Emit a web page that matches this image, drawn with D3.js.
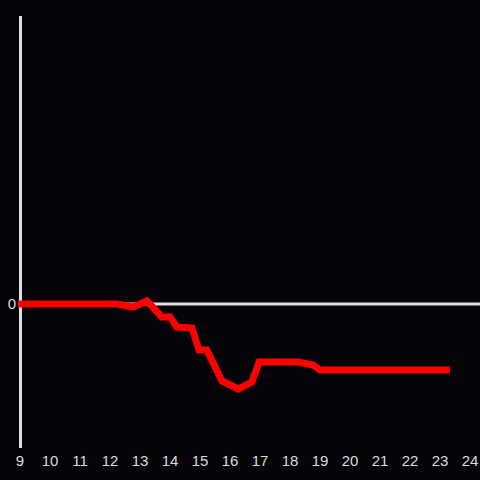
<!DOCTYPE html>
<html>
<head>
<meta charset="utf-8">
<script src="https://cdn.jsdelivr.net/npm/d3@7"></script>
<style>
  html, body { margin: 0; padding: 0; background: #050307; }
  svg { display: block; }
</style>
</head>
<body>
<div id="container"></div>
<script>
// hours of day and values
var hours  = [8.93, 12.23, 12.77, 13.23, 13.73, 14.0, 14.23, 14.73, 14.97, 15.23, 15.73, 16.27, 16.73, 16.97, 18.27, 18.77, 19.0, 23.33];
var values = [0, 0, -3, 3, -13, -13, -23, -24, -46, -46, -77, -85, -78, -58, -58, -61, -66, -66];
var xTicks = [9, 10, 11, 12, 13, 14, 15, 16, 17, 18, 19, 20, 21, 22, 23, 24];
var yTicks = [0];

var width = 480, height = 480;

var svg = d3.select("#container")
    .append("svg")
    .attr("width", width)
    .attr("height", height);

svg.append("rect")
    .attr("width", width)
    .attr("height", height)
    .attr("fill", "#050307");

var x = d3.scaleLinear().domain([9, 24]).range([20, 470]);
var y = d3.scaleLinear().domain([-144, 288]).range([448, 16]);

// zero line
svg.append("line")
    .attr("x1", x(9)).attr("x2", width)
    .attr("y1", y(0)).attr("y2", y(0))
    .attr("stroke", "#e0e0e0")
    .attr("stroke-width", 3);

// y axis line
svg.append("line")
    .attr("x1", 20.5).attr("x2", 20.5)
    .attr("y1", y(288)).attr("y2", y(-144))
    .attr("stroke", "#e0e0e0")
    .attr("stroke-width", 3);

svg.append("g")
    .selectAll("text")
    .data(xTicks)
    .enter().append("text")
    .attr("x", function(d) { return x(d); })
    .attr("y", 466)
    .attr("text-anchor", "middle")
    .attr("fill", "#dcdcdc")
    .style("font", "15px 'Liberation Sans', Arial, sans-serif")
    .text(function(d) { return d; });

svg.append("g")
    .selectAll("text")
    .data(yTicks)
    .enter().append("text")
    .attr("x", 16)
    .attr("y", function(d) { return y(d); })
    .attr("dy", "0.36em")
    .attr("text-anchor", "end")
    .attr("fill", "#dcdcdc")
    .style("font", "15px 'Liberation Sans', Arial, sans-serif")
    .text(function(d) { return d; });

var line = d3.line()
    .x(function(d, i) { return x(hours[i]); })
    .y(function(d) { return y(d); });

svg.append("path")
    .datum(values)
    .attr("d", line)
    .attr("fill", "none")
    .attr("stroke", "#ff0000")
    .attr("stroke-width", 7);
</script>
</body>
</html>
